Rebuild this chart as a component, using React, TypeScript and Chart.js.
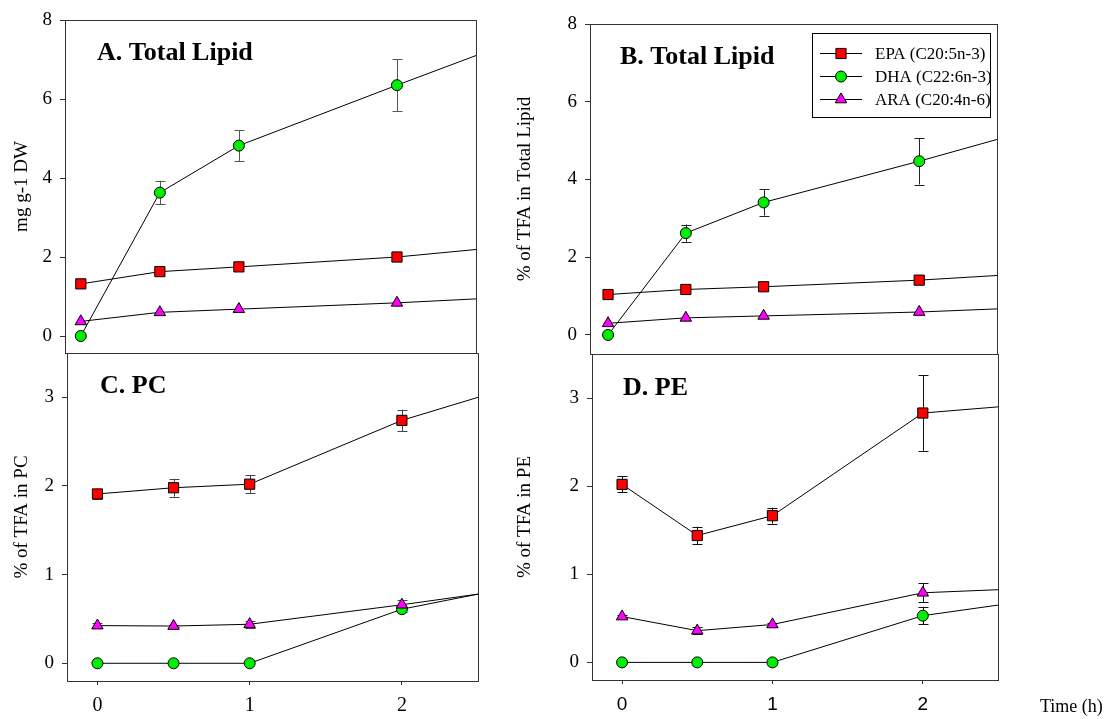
import React, { useEffect, useRef } from 'react';
import { Chart, registerables } from 'chart.js';
import { drawPoint } from 'chart.js/helpers';

Chart.register(...registerables);

const PAGE_W = 1111;
const PAGE_H = 719;

// Sampling times (h); the last time is the next sample, cut off by the axis edge
const timePoints = [0, 0.5, 1, 2, 3];
const xTickValues = [0, 1, 2];

const seriesNames = ['EPA (C20:5n-3)', 'DHA (C22:6n-3)', 'ARA (C20:4n-6)'];

// A. Total Lipid (mg g-1 DW)
const aEPA = [1.32, 1.63, 1.75, 2.0, 2.38];
const aDHA = [0, 3.63, 4.82, 6.35, 7.85];
const aARA = [0.37, 0.6, 0.68, 0.84, 1.04];
const aEPAErr = [0, 0, 0, 0];
const aDHAErr = [0, 0.3, 0.39, 0.66];
const aARAErr = [0, 0, 0, 0];
const aYTicks = [0, 2, 4, 6, 8];

// B. Total Lipid (% of TFA)
const bEPA = [1.04, 1.17, 1.24, 1.41, 1.65];
const bDHA = [0, 2.62, 3.41, 4.47, 5.59];
const bARA = [0.3, 0.44, 0.49, 0.59, 0.75];
const bEPAErr = [0, 0, 0, 0];
const bDHAErr = [0, 0.22, 0.34, 0.6];
const bARAErr = [0, 0, 0, 0];
const bYTicks = [0, 2, 4, 6, 8];

// C. PC (% of TFA)
const cEPA = [1.91, 1.98, 2.02, 2.74, 3.26];
const cDHA = [0, 0, 0, 0.61, 0.95];
const cARA = [0.425, 0.42, 0.44, 0.66, 0.9];
const cEPAErr = [0.06, 0.1, 0.1, 0.12];
const cDHAErr = [0, 0, 0, 0.03];
const cARAErr = [0.03, 0.01, 0.04, 0.05];
const cYTicks = [0, 1, 2, 3];

// D. PE (% of TFA)
const dEPA = [2.02, 1.44, 1.665, 2.83, 2.97];
const dDHA = [0, 0, 0, 0.53, 0.77];
const dARA = [0.52, 0.36, 0.43, 0.79, 0.86];
const dEPAErr = [0.09, 0.1, 0.09, 0.43];
const dDHAErr = [0, 0, 0, 0.1];
const dARAErr = [0.02, 0.04, 0.02, 0.11];
const dYTicks = [0, 1, 2, 3];

const SERIF = '"Liberation Serif", "Times New Roman", serif';
const SANS = '"Liberation Sans", Arial, sans-serif';

const seriesColors = ['#ff0000', '#00ee00', '#ff00ff'];
const pointStyles = ['rect', 'circle', 'triangle'];
const pointRadii = [7.2, 5.5, 6.6];
const drawOrder = [0, 2, 1];
const frameColor = '#333333';

type Box = { l: number; t: number; r: number; b: number };
type PanelSpec = {
  key: string;
  box: Box;
  padLeft: number;
  xMin: number;
  xMax: number;
  showX: boolean;
  xFont: string;
  xFontSize: number;
  yMin: number;
  yMax: number;
  yTicks: number[];
  yTitle: string;
  title: string;
  titleX: number;
  titleY: number;
  series: number[][];
  errs: number[][];
  errColor: string;
  legend?: boolean;
  timeLabel?: boolean;
};

const panels: PanelSpec[] = [
  {
    key: 'A', box: { l: 65, t: 20, r: 476, b: 353 }, padLeft: 0,
    xMin: -0.1, xMax: 2.5, showX: false, xFont: SERIF, xFontSize: 20,
    yMin: -0.43, yMax: 8, yTicks: aYTicks, yTitle: 'mg g-1 DW',
    title: 'A. Total Lipid', titleX: 97, titleY: 60,
    series: [aEPA, aDHA, aARA], errs: [aEPAErr, aDHAErr, aARAErr], errColor: '#555555',
  },
  {
    key: 'B', box: { l: 590, t: 24, r: 997, b: 354 }, padLeft: 503,
    xMin: -0.116, xMax: 2.5, showX: false, xFont: SERIF, xFontSize: 20,
    yMin: -0.49, yMax: 8, yTicks: bYTicks, yTitle: '% of TFA in Total Lipid',
    title: 'B. Total Lipid', titleX: 620, titleY: 64,
    series: [bEPA, bDHA, bARA], errs: [bEPAErr, bDHAErr, bARAErr], errColor: '#222222',
    legend: true,
  },
  {
    key: 'C', box: { l: 67, t: 353, r: 478, b: 681 }, padLeft: 0,
    xMin: -0.2, xMax: 2.5, showX: true, xFont: SERIF, xFontSize: 20,
    yMin: -0.2, yMax: 3.5, yTicks: cYTicks, yTitle: '% of TFA in PC',
    title: 'C. PC', titleX: 100, titleY: 393,
    series: [cEPA, cDHA, cARA], errs: [cEPAErr, cDHAErr, cARAErr], errColor: '#444444',
  },
  {
    key: 'D', box: { l: 592, t: 354, r: 998, b: 680 }, padLeft: 503,
    xMin: -0.2, xMax: 2.5, showX: true, xFont: SANS, xFontSize: 19,
    yMin: -0.2, yMax: 3.5, yTicks: dYTicks, yTitle: '% of TFA in PE',
    title: 'D. PE', titleX: 623, titleY: 395,
    series: [dEPA, dDHA, dARA], errs: [dEPAErr, dDHAErr, dARAErr], errColor: '#111111',
    timeLabel: true,
  },
];

function makeConfig(p: PanelSpec): any {
  const X_H = p.showX ? 38 : 0;
  const yW = p.box.l - p.padLeft;
  const datasets = p.series.map((vals, i) => ({
    label: seriesNames[i],
    data: timePoints.map((t, j) => ({ x: t, y: vals[j] })),
    borderColor: '#000000',
    borderWidth: 1,
    backgroundColor: seriesColors[i],
    pointBackgroundColor: seriesColors[i],
    pointBorderColor: '#000000',
    pointBorderWidth: 1,
    pointStyle: pointStyles[i],
    pointRadius: pointRadii[i],
    tension: 0,
    fill: false,
    order: drawOrder[i],
  }));

  const decor = {
    id: 'decor' + p.key,
    beforeDatasetsDraw(chart: any) {
      const ctx = chart.ctx;
      const xs = chart.scales.x;
      const ys = chart.scales.y;
      ctx.save();
      ctx.strokeStyle = p.errColor;
      ctx.lineWidth = 1;
      p.errs.forEach((errArr, i) => {
        errArr.forEach((e, j) => {
          if (!e) return;
          const v = p.series[i][j];
          const x = Math.round(xs.getPixelForValue(timePoints[j])) + 0.5;
          const y1 = ys.getPixelForValue(v + e);
          const y2 = ys.getPixelForValue(v - e);
          ctx.beginPath();
          ctx.moveTo(x, y1);
          ctx.lineTo(x, y2);
          ctx.moveTo(x - 5, Math.round(y1) + 0.5);
          ctx.lineTo(x + 5, Math.round(y1) + 0.5);
          ctx.moveTo(x - 5, Math.round(y2) + 0.5);
          ctx.lineTo(x + 5, Math.round(y2) + 0.5);
          ctx.stroke();
        });
      });
      ctx.restore();
    },
    afterDraw(chart: any) {
      const ctx = chart.ctx;
      const a = chart.chartArea;
      ctx.save();
      ctx.strokeStyle = frameColor;
      ctx.lineWidth = 1;
      ctx.strokeRect(a.left + 0.5, a.top + 0.5, a.right - a.left, a.bottom - a.top);

      ctx.fillStyle = '#000000';
      ctx.textAlign = 'left';
      ctx.textBaseline = 'alphabetic';
      ctx.font = `bold 26px ${SERIF}`;
      ctx.fillText(p.title, p.titleX, p.titleY);

      if (p.legend) {
        ctx.strokeStyle = '#000000';
        ctx.strokeRect(812.5, 33.5, 178, 84);
        ctx.font = `17px ${SERIF}`;
        const rows = [53, 76, 99];
        chart.data.datasets.forEach((ds: any, i: number) => {
          const y = rows[i];
          ctx.strokeStyle = '#000000';
          ctx.lineWidth = 1;
          ctx.beginPath();
          ctx.moveTo(820, y + 0.5);
          ctx.lineTo(862, y + 0.5);
          ctx.stroke();
          ctx.fillStyle = ds.pointBackgroundColor;
          ctx.strokeStyle = '#000000';
          drawPoint(ctx, { pointStyle: ds.pointStyle, radius: ds.pointRadius, borderWidth: 1, rotation: 0 } as any, 841, y + 0.5);
          ctx.fillStyle = '#000000';
          ctx.fillText(ds.label, 875, y + 6);
        });
      }
      if (p.timeLabel) {
        ctx.fillStyle = '#000000';
        ctx.font = `18px ${SERIF}`;
        ctx.fillText('Time (h)', 1040, 712);
      }
      ctx.restore();
    },
  };

  return {
    type: 'line',
    data: { datasets },
    plugins: [decor],
    options: {
      responsive: false,
      animation: false,
      devicePixelRatio: 1,
      events: [],
      layout: {
        padding: {
          left: p.padLeft,
          top: p.box.t,
          right: PAGE_W - p.box.r,
          bottom: PAGE_H - p.box.b - X_H,
        },
      },
      plugins: {
        legend: { display: false },
        tooltip: { enabled: false },
        title: { display: false },
      },
      scales: {
        x: {
          type: 'linear',
          min: p.xMin,
          max: p.xMax,
          display: p.showX,
          afterBuildTicks: (s: any) => {
            s.ticks = xTickValues.map((v) => ({ value: v }));
          },
          afterFit: (s: any) => {
            s.height = X_H;
          },
          grid: { drawOnChartArea: false, drawTicks: true, tickLength: 4, color: frameColor, lineWidth: 1 },
          border: { display: false },
          ticks: {
            font: { family: p.xFont, size: p.xFontSize },
            color: '#000000',
            padding: 9,
            maxRotation: 0,
            autoSkip: false,
            callback: (v: any) => String(v),
          },
        },
        y: {
          type: 'linear',
          min: p.yMin,
          max: p.yMax,
          afterBuildTicks: (s: any) => {
            s.ticks = p.yTicks.map((v) => ({ value: v }));
          },
          afterFit: (s: any) => {
            s.width = yW;
          },
          grid: { drawOnChartArea: false, drawTicks: true, tickLength: 5, color: frameColor, lineWidth: 1 },
          border: { display: false },
          ticks: {
            font: { family: SERIF, size: 19 },
            color: '#000000',
            padding: 8,
            autoSkip: false,
            callback: (v: any) => String(v),
          },
          title: {
            display: true,
            text: p.yTitle,
            font: { family: SERIF, size: 19 },
            color: '#000000',
            padding: { top: 10.6, bottom: 0 },
          },
        },
      },
    },
  };
}

function PanelChart({ spec }: { spec: PanelSpec }) {
  const ref = useRef<HTMLCanvasElement | null>(null);
  useEffect(() => {
    if (!ref.current) return;
    const chart = new Chart(ref.current, makeConfig(spec));
    return () => chart.destroy();
  }, [spec]);
  return (
    <canvas
      ref={ref}
      width={PAGE_W}
      height={PAGE_H}
      style={{ position: 'absolute', left: 0, top: 0, width: PAGE_W, height: PAGE_H }}
    />
  );
}

export default function App() {
  return (
    <div style={{ position: 'absolute', left: 0, top: 0, width: PAGE_W, height: PAGE_H, background: '#ffffff', overflow: 'hidden' }}>
      {panels.map((p) => (
        <PanelChart key={p.key} spec={p} />
      ))}
    </div>
  );
}
